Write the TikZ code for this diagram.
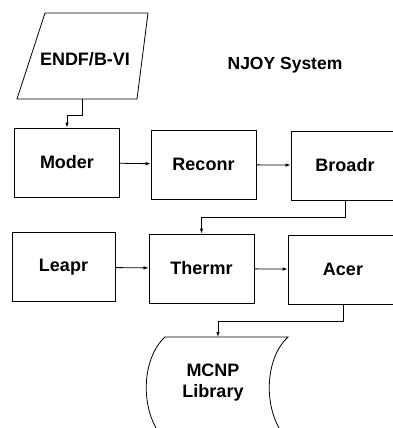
\documentclass[tikz,border=0pt]{standalone}
\usepackage{fontspec}
\setmainfont{Liberation Sans}
\usetikzlibrary{arrows.meta}
\tikzset{
  module/.style={draw, line width=0.8pt, minimum width=105pt, minimum height=69pt, inner sep=0pt, font=\fontsize{18}{21}\selectfont\bfseries},
  label/.style={inner sep=0pt, font=\fontsize{18}{21}\selectfont\bfseries, align=center},
  outline/.style={draw, line width=0.8pt},
  flowedge/.style={line width=0.8pt, -{Latex[length=5pt,width=3.5pt]}}
}
\begin{document}
\begin{tikzpicture}[x=1pt,y=-1pt]
  \useasboundingbox (0,0) rectangle (393,428);
  \clip (0,0) rectangle (393,428);

  % input tape
  \draw[outline] (45,13) -- (148,13) -- (137,99) -- (17,99) -- cycle;
  \node[label] (endf) at (85,59) {ENDF/B-VI};
  \coordinate (endfout) at (82,99);

  \node[label, font=\fontsize{17.5}{21}\selectfont\bfseries] (title) at (285,65) {NJOY System};

  \node[module] (moder) at (67,162.5) {Moder};
  \node[module] (reconr) at (203.5,164.5) {Reconr};
  \node[module, minimum width=108pt] (broadr) at (345,165.5) {Broadr};
  \node[module, minimum width=103pt] (leapr) at (63.5,267) {Leapr};
  \node[module] (thermr) at (201.5,268.5) {Thermr};
  \node[module, minimum width=110pt] (acer) at (343,269.5) {Acer};

  % output library
  \draw[outline] (165,337) -- (288,337) .. controls (263,360) and (263,415) .. (288,440)
    -- (165,440) .. controls (140,415) and (140,360) .. cycle;
  \node[label] (mcnp) at (213,383) {MCNP\\Library};
  \coordinate (libtop) at (218,337);

  \draw[flowedge] (endfout) -- ++(0,16) -| (moder.north);
  \draw[flowedge] (moder) -- (reconr);
  \draw[flowedge] (reconr) -- (broadr);
  \draw[flowedge] (broadr.south) -- ++(0,17) -| (thermr.north);
  \draw[flowedge] (leapr) -- (thermr);
  \draw[flowedge] (thermr) -- (acer);
  \draw[flowedge] (acer.south) -- ++(0,17) -| (libtop);
\end{tikzpicture}
\end{document}
